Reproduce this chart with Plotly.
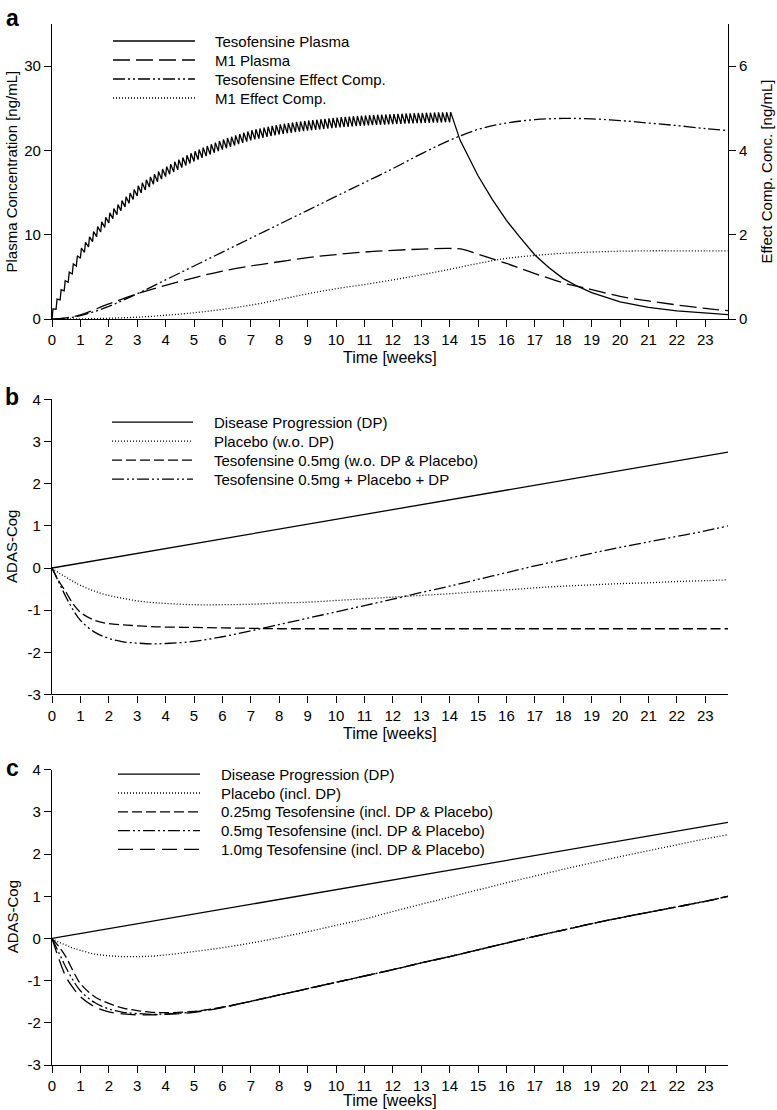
import plotly.graph_objects as go
from plotly.subplots import make_subplots

# ---------------- Panel a data ----------------
dose_day = list(range(99))  # daily dosing, day 0 .. day 98 (week 14)
plasma_trough = [0.00, 1.17, 2.28, 3.35, 4.37, 5.35, 6.30, 7.22, 7.91, 8.56,
                 9.18, 9.77, 10.33, 10.87, 11.40, 11.90, 12.38, 12.85, 13.31, 13.75,
                 14.18, 14.60, 14.97, 15.32, 15.66, 15.99, 16.30, 16.60, 16.90, 17.18,
                 17.45, 17.71, 17.97, 18.22, 18.46, 18.70, 18.92, 19.13, 19.33, 19.53,
                 19.73, 19.92, 20.10, 20.27, 20.43, 20.59, 20.75, 20.90, 21.05, 21.20,
                 21.31, 21.41, 21.51, 21.61, 21.71, 21.81, 21.90, 21.97, 22.04, 22.11,
                 22.17, 22.23, 22.29, 22.35, 22.40, 22.45, 22.50, 22.55, 22.60, 22.65,
                 22.70, 22.74, 22.78, 22.82, 22.86, 22.89, 22.92, 22.95, 22.98, 23.01,
                 23.03, 23.05, 23.07, 23.09, 23.12, 23.14, 23.16, 23.18, 23.20, 23.22,
                 23.24, 23.25, 23.27, 23.28, 23.30, 23.31, 23.32, 23.34, 23.35]
plasma_peak = [1.20, 2.37, 3.48, 4.55, 5.57, 6.55, 7.50, 8.42, 9.11, 9.76,
               10.38, 10.97, 11.53, 12.07, 12.60, 13.10, 13.58, 14.05, 14.51, 14.95,
               15.38, 15.80, 16.17, 16.52, 16.86, 17.19, 17.50, 17.80, 18.10, 18.38,
               18.65, 18.91, 19.17, 19.42, 19.66, 19.90, 20.12, 20.33, 20.53, 20.73,
               20.93, 21.12, 21.30, 21.47, 21.63, 21.79, 21.95, 22.10, 22.25, 22.40,
               22.51, 22.61, 22.71, 22.81, 22.91, 23.01, 23.10, 23.17, 23.24, 23.31,
               23.37, 23.43, 23.49, 23.55, 23.60, 23.65, 23.70, 23.75, 23.80, 23.85,
               23.90, 23.94, 23.98, 24.02, 24.06, 24.09, 24.12, 24.15, 24.18, 24.21,
               24.23, 24.25, 24.27, 24.29, 24.32, 24.34, 24.36, 24.38, 24.40, 24.42,
               24.44, 24.45, 24.47, 24.48, 24.50, 24.51, 24.52, 24.54, 24.55]
peak_lag_days = 0.25
washout_week = [14.37, 15.0, 15.5, 16.0, 16.5, 17.0, 17.5, 18.0, 18.5, 19.0,
                20.0, 21.0, 22.0, 23.0, 23.8]
washout_conc = [21.2, 17.0, 14.2, 11.7, 9.6, 7.6, 6.1, 4.8, 3.9, 3.15,
                2.05, 1.38, 0.98, 0.70, 0.52]

m1_week = [0, 0.5, 1, 2, 3, 4, 5, 6, 7, 8, 9, 10, 11, 12, 13, 14, 14.5, 15,
           16, 17, 18, 19, 20, 21, 22, 23, 23.8]
m1_plasma = [0, 0.15, 0.5, 1.8, 3.0, 4.0, 4.9, 5.7, 6.3, 6.8, 7.3, 7.65, 7.95,
             8.15, 8.3, 8.38, 8.25, 7.7, 6.6, 5.4, 4.3, 3.5, 2.7, 2.15, 1.68, 1.27, 1.0]

tes_eff_week = [0, 0.5, 1, 1.5, 2, 3, 4, 5, 6, 7, 8, 9, 10, 11, 12, 13, 14, 15,
                16, 17, 18, 19, 20, 21, 22, 23, 23.8]
tes_eff = [0, 0.02, 0.08, 0.18, 0.3, 0.6, 0.93, 1.26, 1.59, 1.92, 2.25, 2.58, 2.91,
           3.24, 3.57, 3.92, 4.24, 4.50, 4.65, 4.73, 4.76, 4.75, 4.71, 4.65, 4.59, 4.52, 4.47]

m1_eff_week = [0, 1, 2, 3, 4, 5, 6, 7, 8, 9, 10, 11, 12, 13, 14, 15, 16, 17, 18,
               19, 20, 21, 22, 23, 23.8]
m1_eff = [0, 0.005, 0.02, 0.045, 0.09, 0.15, 0.23, 0.33, 0.46, 0.6, 0.72, 0.82,
          0.93, 1.05, 1.18, 1.32, 1.44, 1.51, 1.56, 1.59, 1.61, 1.62, 1.62, 1.62, 1.62]

# ---------------- Panel b / c data ----------------
dp_week = [0, 23.8]
dp_val = [0, 2.75]

wk = [0, 0.25, 0.5, 0.75, 1, 1.5, 2, 2.5, 3, 3.5, 4, 5, 6, 7, 8, 9, 10, 11, 12,
      13, 14, 15, 16, 17, 18, 19, 20, 21, 22, 23, 23.8]
b_placebo = [0, -0.12, -0.22, -0.32, -0.41, -0.55, -0.65, -0.72, -0.78, -0.815, -0.84,
             -0.87, -0.87, -0.86, -0.83, -0.81, -0.77, -0.73, -0.69, -0.65, -0.61,
             -0.56, -0.52, -0.47, -0.43, -0.40, -0.37, -0.35, -0.32, -0.30, -0.28]
b_tes = [0, -0.32, -0.58, -0.86, -1.05, -1.24, -1.32, -1.35, -1.37, -1.39, -1.40,
         -1.41, -1.42, -1.43, -1.44, -1.44, -1.44, -1.44, -1.44, -1.44, -1.44,
         -1.44, -1.44, -1.44, -1.44, -1.44, -1.44, -1.44, -1.44, -1.44, -1.44]
b_total = [0, -0.35, -0.70, -1.00, -1.24, -1.52, -1.67, -1.75, -1.78, -1.80, -1.79,
           -1.74, -1.63, -1.49, -1.34, -1.19, -1.04, -0.89, -0.74, -0.58, -0.43,
           -0.27, -0.11, 0.05, 0.20, 0.35, 0.49, 0.62, 0.75, 0.88, 1.00]

c_placebo = [0, -0.09, -0.16, -0.23, -0.28, -0.37, -0.41, -0.43, -0.43, -0.42, -0.39,
             -0.31, -0.22, -0.11, 0.02, 0.16, 0.31, 0.46, 0.64, 0.81, 0.98,
             1.15, 1.32, 1.48, 1.64, 1.79, 1.94, 2.08, 2.22, 2.36, 2.46]
c_025 = [0, -0.20, -0.45, -0.78, -1.07, -1.38, -1.54, -1.65, -1.71, -1.75, -1.76,
         -1.73, -1.63, -1.49, -1.34, -1.19, -1.04, -0.89, -0.74, -0.58, -0.43,
         -0.27, -0.11, 0.05, 0.20, 0.35, 0.49, 0.62, 0.75, 0.88, 1.00]
c_05 = [0, -0.35, -0.70, -1.00, -1.24, -1.52, -1.67, -1.75, -1.78, -1.80, -1.79,
        -1.74, -1.63, -1.49, -1.34, -1.19, -1.04, -0.89, -0.74, -0.58, -0.43,
        -0.27, -0.11, 0.05, 0.20, 0.35, 0.49, 0.62, 0.75, 0.88, 1.00]
c_10 = [0, -0.50, -0.92, -1.18, -1.38, -1.62, -1.74, -1.79, -1.81, -1.81, -1.80,
        -1.75, -1.64, -1.49, -1.34, -1.19, -1.04, -0.89, -0.74, -0.58, -0.43,
        -0.27, -0.11, 0.05, 0.20, 0.35, 0.49, 0.62, 0.75, 0.88, 1.00]

x_ticks = list(range(24))
y_ticks_a_left = [0, 10, 20, 30]
y_ticks_a_right = [0, 2, 4, 6]
y_ticks_adas = [-3, -2, -1, 0, 1, 2, 3, 4]
y_ticktext_adas = ["-3", "-2", "-1", "0", "1", "2", "3", "4"]

# ---------------- styles ----------------
FONT = "Liberation Sans, Arial, Helvetica, sans-serif"
SOLID = "solid"
LONGDASH = "17px,6px"
DASHDOTDOT = "12px,3px,2px,3px,2px,3px"
DOT = "1px,2px"
DASH = "10px,4px"
LONGDASH2 = "15px,7px"
LW = 1.3

fig = make_subplots(rows=3, cols=1, specs=[[{"secondary_y": True}], [{}], [{}]])

# Panel a traces
px_x, px_y = [], []
for d, tr, pk in zip(dose_day, plasma_trough, plasma_peak):
    px_x += [d / 7, (d + peak_lag_days) / 7]
    px_y += [tr, pk]
px_x += washout_week
px_y += washout_conc

fig.add_trace(go.Scatter(x=px_x, y=px_y, mode="lines", name="Tesofensine Plasma",
                         line=dict(color="black", width=LW, dash=SOLID)),
              row=1, col=1, secondary_y=False)
fig.add_trace(go.Scatter(x=m1_week, y=m1_plasma, mode="lines", name="M1 Plasma",
                         line=dict(color="black", width=LW, dash=LONGDASH, shape="spline")),
              row=1, col=1, secondary_y=False)
fig.add_trace(go.Scatter(x=tes_eff_week, y=tes_eff, mode="lines", name="Tesofensine Effect Comp.",
                         line=dict(color="black", width=LW, dash=DASHDOTDOT, shape="spline")),
              row=1, col=1, secondary_y=True)
fig.add_trace(go.Scatter(x=m1_eff_week, y=m1_eff, mode="lines", name="M1 Effect Comp.",
                         line=dict(color="black", width=LW, dash=DOT, shape="spline")),
              row=1, col=1, secondary_y=True)

# Panel b traces
fig.add_trace(go.Scatter(x=dp_week, y=dp_val, mode="lines", name="Disease Progression (DP)",
                         line=dict(color="black", width=LW, dash=SOLID)), row=2, col=1)
fig.add_trace(go.Scatter(x=wk, y=b_placebo, mode="lines", name="Placebo (w.o. DP)",
                         line=dict(color="black", width=LW, dash=DOT, shape="spline")), row=2, col=1)
fig.add_trace(go.Scatter(x=wk, y=b_tes, mode="lines", name="Tesofensine 0.5mg (w.o. DP & Placebo)",
                         line=dict(color="black", width=LW, dash=DASH, shape="spline")), row=2, col=1)
fig.add_trace(go.Scatter(x=wk, y=b_total, mode="lines", name="Tesofensine 0.5mg + Placebo + DP",
                         line=dict(color="black", width=LW, dash=DASHDOTDOT, shape="spline")), row=2, col=1)

# Panel c traces
fig.add_trace(go.Scatter(x=dp_week, y=dp_val, mode="lines", name="Disease Progression (DP)",
                         line=dict(color="black", width=LW, dash=SOLID)), row=3, col=1)
fig.add_trace(go.Scatter(x=wk, y=c_placebo, mode="lines", name="Placebo (incl. DP)",
                         line=dict(color="black", width=LW, dash=DOT, shape="spline")), row=3, col=1)
fig.add_trace(go.Scatter(x=wk, y=c_025, mode="lines", name="0.25mg Tesofensine (incl. DP & Placebo)",
                         line=dict(color="black", width=LW, dash=DASH, shape="spline")), row=3, col=1)
fig.add_trace(go.Scatter(x=wk, y=c_05, mode="lines", name="0.5mg Tesofensine (incl. DP & Placebo)",
                         line=dict(color="black", width=LW, dash=DASHDOTDOT, shape="spline")), row=3, col=1)
fig.add_trace(go.Scatter(x=wk, y=c_10, mode="lines", name="1.0mg Tesofensine (incl. DP & Placebo)",
                         line=dict(color="black", width=LW, dash=LONGDASH2, shape="spline")), row=3, col=1)

# ---------------- layout ----------------
W, H = 777, 1110
PLOT_L, PLOT_R, PLOT_T, PLOT_B = 52, 728, 24, 1064.7   # pixels of the plotting area
ML, MT, MR, MB = PLOT_L, PLOT_T, W - PLOT_R, H - PLOT_B
PW, PH = W - ML - MR, H - MT - MB


def px2x(p):
    return (p - PLOT_L) / PW


def px2y(p):
    return (PLOT_B - p) / PH


axis_common = dict(showline=True, linecolor="black", linewidth=1.2, ticks="outside",
                   ticklen=7, tickwidth=1.2, tickcolor="black", showgrid=False,
                   zeroline=False, automargin=False,
                   tickfont=dict(size=15, color="black", family=FONT))

dom_a = [px2y(319), px2y(24)]
dom_b = [px2y(694.3), px2y(399.3)]
dom_c = [px2y(1064.7), px2y(769.5)]

fig.update_layout(
    template="none",
    width=W, height=H, margin=dict(l=ML, r=MR, t=MT, b=MB, pad=0), autosize=False,
    paper_bgcolor="white", plot_bgcolor="white", showlegend=False,
    font=dict(family=FONT, color="black", size=15),
)
for ax in ["xaxis", "xaxis2", "xaxis3"]:
    fig.layout[ax].update(domain=[0, 1], range=[0, 23.8], tickmode="array",
                          tickvals=x_ticks, **axis_common)
fig.layout.yaxis.update(domain=dom_a, range=[0, 35], tickmode="array",
                        tickvals=y_ticks_a_left, **axis_common)
fig.layout.yaxis2.update(domain=dom_a, range=[0, 7], tickmode="array",
                         tickvals=y_ticks_a_right, side="right", **axis_common)
fig.layout.yaxis3.update(domain=dom_b, range=[-3, 4], tickmode="array",
                         tickvals=y_ticks_adas, ticktext=y_ticktext_adas, **axis_common)
fig.layout.yaxis4.update(domain=dom_c, range=[-3, 4], tickmode="array",
                         tickvals=y_ticks_adas, ticktext=y_ticktext_adas, **axis_common)

ann = []
shapes = []


def text(x, y, s, size=15, angle=0, xanchor="center", bold=False):
    ann.append(dict(x=x, y=y, xref="paper", yref="paper", text=("<b>%s</b>" % s) if bold else s,
                    showarrow=False, textangle=angle, xanchor=xanchor, yanchor="middle",
                    font=dict(size=size, family=FONT, color="black")))


# panel letters
text(px2x(12), px2y(18), "a", size=23, bold=True)
text(px2x(12), px2y(397), "b", size=23, bold=True)
text(px2x(12), px2y(768), "c", size=23, bold=True)

# axis titles
text(0.5, px2y(357), "Time [weeks]", size=16)
text(0.5, px2y(733), "Time [weeks]", size=16)
text(0.5, px2y(1100), "Time [weeks]", size=16)
text(px2x(12), sum(dom_a) / 2, "Plasma Concentration [ng/mL]", angle=-90)
text(px2x(767), sum(dom_a) / 2, "Effect Comp. Conc. [ng/mL]", angle=-90)
text(px2x(12), sum(dom_b) / 2, "ADAS-Cog", angle=-90)
text(px2x(12), sum(dom_c) / 2, "ADAS-Cog", angle=-90)

# legends (drawn keys)
legend_a = [("Tesofensine Plasma", SOLID), ("M1 Plasma", LONGDASH),
            ("Tesofensine Effect Comp.", DASHDOTDOT), ("M1 Effect Comp.", DOT)]
legend_b = [("Disease Progression (DP)", SOLID), ("Placebo (w.o. DP)", DOT),
            ("Tesofensine 0.5mg (w.o. DP & Placebo)", DASH),
            ("Tesofensine 0.5mg + Placebo + DP", DASHDOTDOT)]
legend_c = [("Disease Progression (DP)", SOLID), ("Placebo (incl. DP)", DOT),
            ("0.25mg Tesofensine (incl. DP & Placebo)", DASH),
            ("0.5mg Tesofensine (incl. DP & Placebo)", DASHDOTDOT),
            ("1.0mg Tesofensine (incl. DP & Placebo)", LONGDASH2)]


def draw_legend(items, x0, x1, xt, y0, dy):
    for i, (label, dash) in enumerate(items):
        yy = px2y(y0 + i * dy)
        shapes.append(dict(type="line", xref="paper", yref="paper", x0=px2x(x0), x1=px2x(x1),
                           y0=yy, y1=yy, line=dict(color="black", width=LW, dash=dash)))
        text(px2x(xt), yy, label, xanchor="left")


draw_legend(legend_a, 113, 195, 213, 41, 19)
draw_legend(legend_b, 112, 193, 212, 422, 19)
draw_legend(legend_c, 118, 200, 219, 774, 18.8)

fig.update_layout(annotations=ann, shapes=shapes)

# remove the default page margin so that the figure sits at the window's top-left corner
fig.write_html("out.html",
               config={"displayModeBar": False},
               post_script="document.body.style.margin='0px';document.body.style.overflow='hidden';")
